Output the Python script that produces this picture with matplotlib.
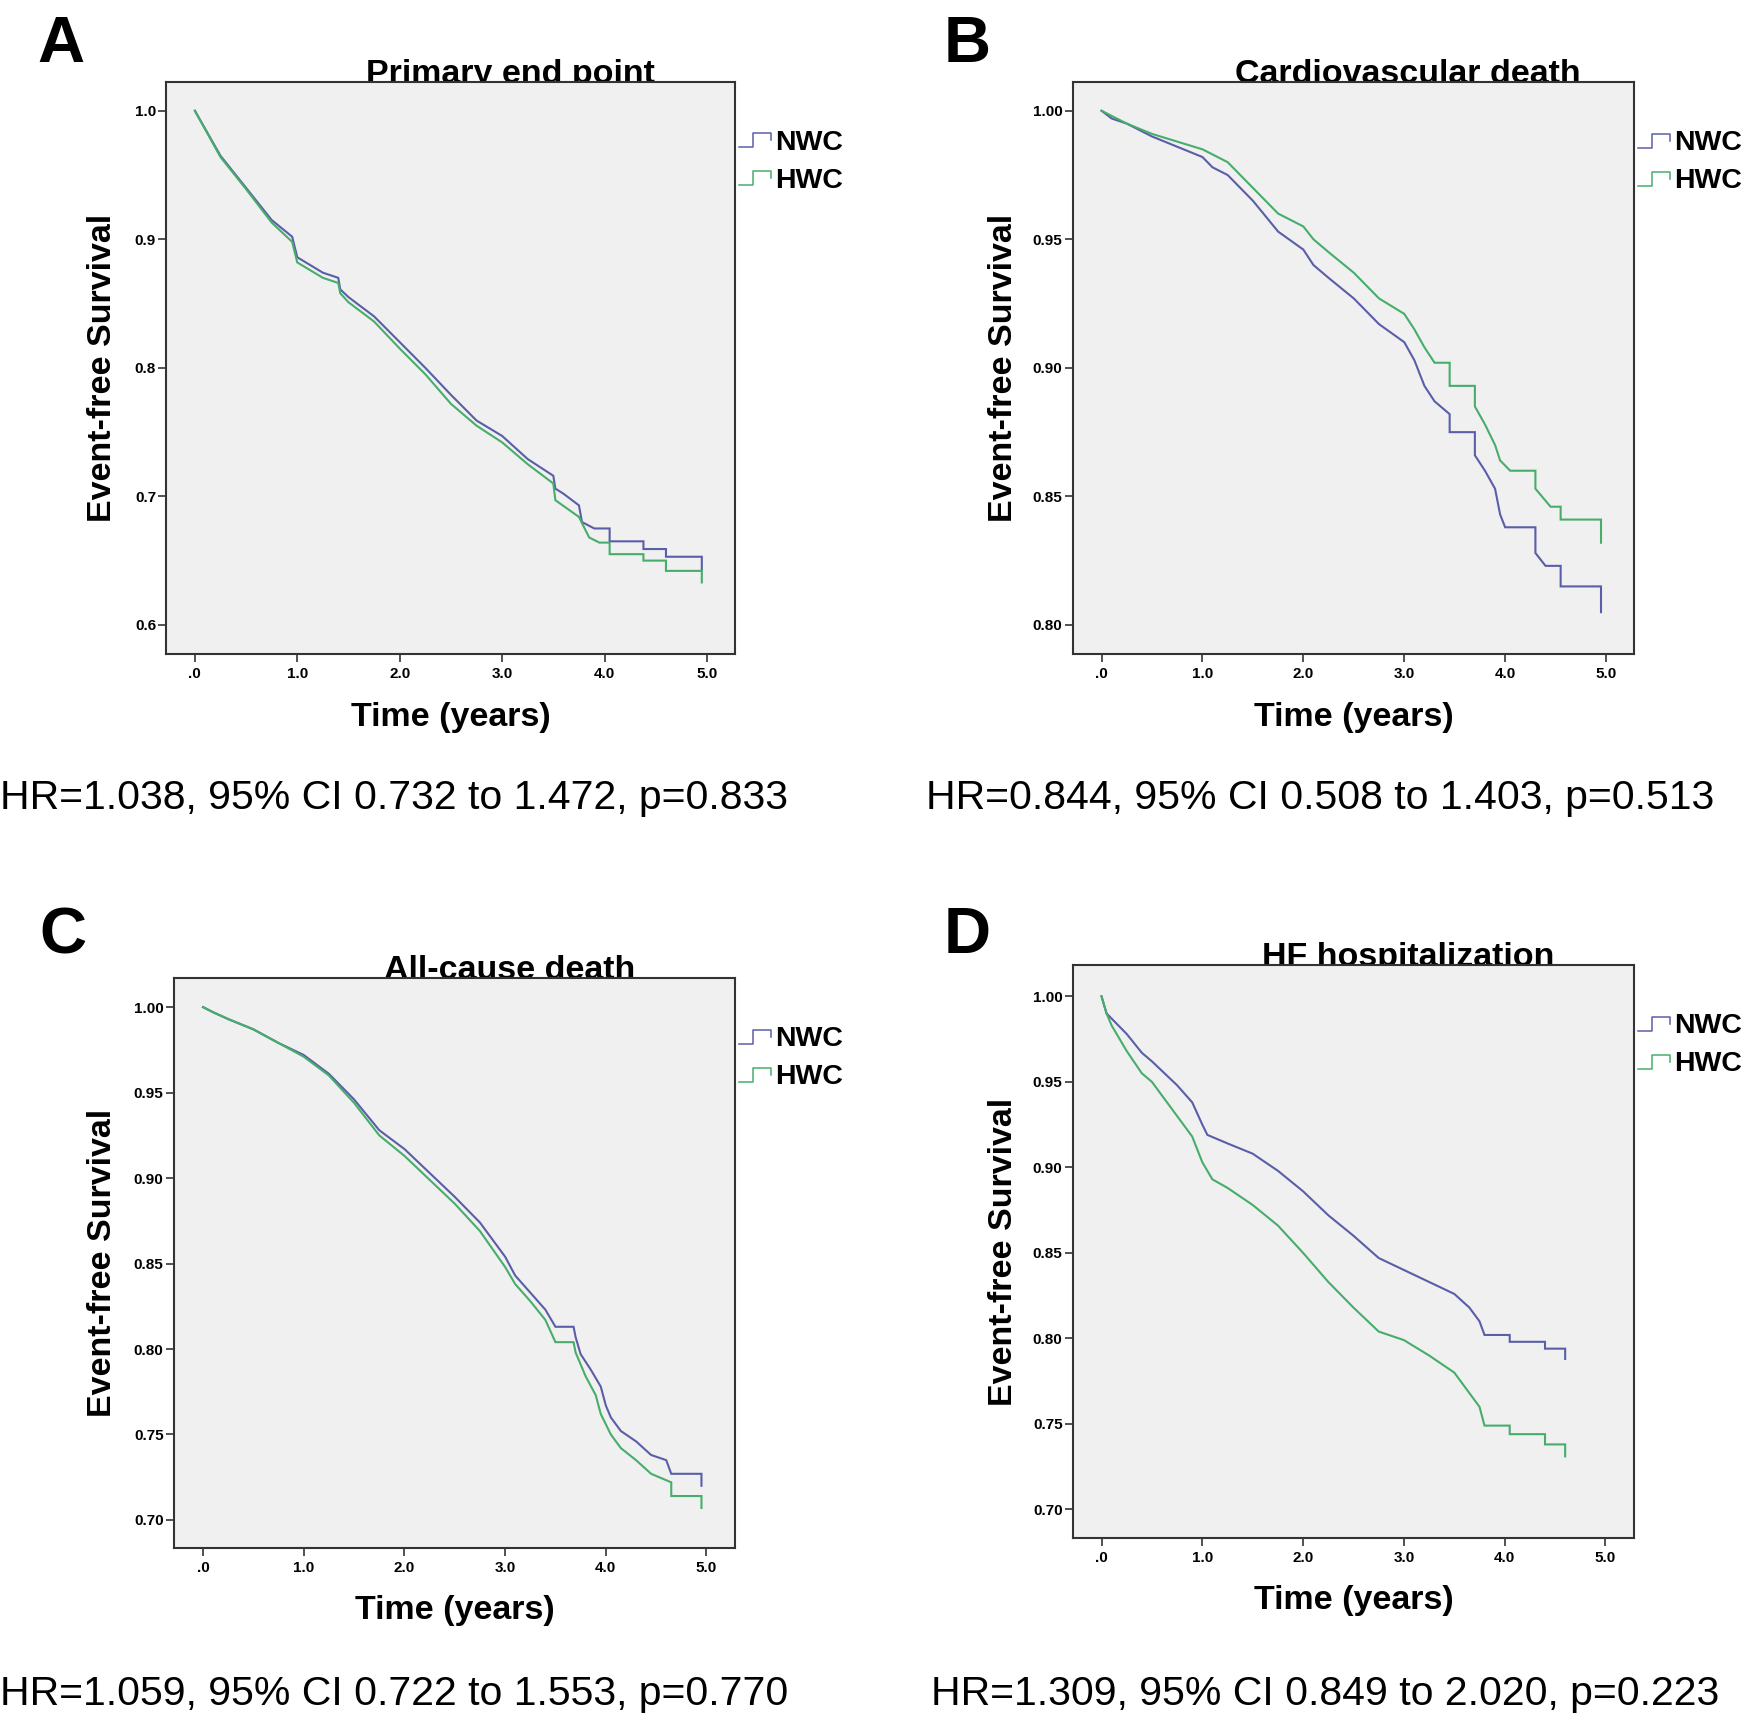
"""Four Kaplan-Meier panels (NWC vs HWC) with HR annotations."""

import matplotlib.pyplot as plt
from matplotlib.lines import Line2D

plt.rcParams["font.family"] = ["Liberation Sans", "DejaVu Sans"]

W, H = 1749, 1717  # output size in pixels (dpi 100)

COLORS = {"NWC": "#5a5ea8", "HWC": "#46ad6b"}
X_TICKS = [0, 1, 2, 3, 4, 5]
X_TICKLABELS = [".0", "1.0", "2.0", "3.0", "4.0", "5.0"]

# --- A: primary end point -----------------------------------------------------
A_NWC_T = [0, 0.25, 0.5, 0.75, 0.95, 1.0, 1.25, 1.4, 1.42, 1.5, 1.75, 2.0, 2.25, 2.5,
           2.75, 3.0, 3.25, 3.5, 3.52, 3.6, 3.75, 3.78, 3.9, 4.05, 4.05, 4.38, 4.38,
           4.6, 4.6, 4.95, 4.95]
A_NWC_S = [1.0, 0.965, 0.940, 0.915, 0.902, 0.886, 0.874, 0.870, 0.861, 0.855, 0.840,
           0.820, 0.800, 0.779, 0.759, 0.747, 0.729, 0.716, 0.706, 0.702, 0.693, 0.680,
           0.675, 0.675, 0.665, 0.665, 0.659, 0.659, 0.653, 0.653, 0.643]
A_HWC_T = [0, 0.25, 0.5, 0.75, 0.95, 1.0, 1.25, 1.4, 1.42, 1.5, 1.75, 2.0, 2.25, 2.5,
           2.75, 3.0, 3.25, 3.5, 3.52, 3.75, 3.85, 3.95, 4.05, 4.05, 4.38, 4.38, 4.6,
           4.6, 4.95, 4.95]
A_HWC_S = [1.0, 0.964, 0.939, 0.913, 0.898, 0.882, 0.870, 0.866, 0.858, 0.851, 0.836,
           0.815, 0.795, 0.772, 0.755, 0.742, 0.725, 0.710, 0.697, 0.684, 0.668, 0.664,
           0.664, 0.655, 0.655, 0.650, 0.650, 0.642, 0.642, 0.633]

# --- B: cardiovascular death ---------------------------------------------------
B_NWC_T = [0, 0.1, 0.25, 0.5, 0.75, 1.0, 1.1, 1.25, 1.5, 1.75, 2.0, 2.1, 2.25, 2.5,
           2.75, 3.0, 3.1, 3.2, 3.3, 3.45, 3.45, 3.7, 3.7, 3.8, 3.9, 3.95, 4.0, 4.3,
           4.3, 4.4, 4.55, 4.55, 4.95, 4.95]
B_NWC_S = [1.0, 0.997, 0.995, 0.990, 0.986, 0.982, 0.978, 0.975, 0.965, 0.953, 0.946,
           0.940, 0.935, 0.927, 0.917, 0.910, 0.903, 0.893, 0.887, 0.882, 0.875, 0.875,
           0.866, 0.860, 0.853, 0.843, 0.838, 0.838, 0.828, 0.823, 0.823, 0.815, 0.815,
           0.805]
B_HWC_T = [0, 0.25, 0.5, 0.75, 1.0, 1.25, 1.5, 1.75, 2.0, 2.1, 2.25, 2.5, 2.75, 3.0,
           3.1, 3.2, 3.3, 3.45, 3.45, 3.7, 3.7, 3.8, 3.9, 3.95, 4.05, 4.3, 4.3, 4.45,
           4.55, 4.55, 4.95, 4.95]
B_HWC_S = [1.0, 0.995, 0.991, 0.988, 0.985, 0.980, 0.970, 0.960, 0.955, 0.950, 0.945,
           0.937, 0.927, 0.921, 0.915, 0.908, 0.902, 0.902, 0.893, 0.893, 0.885, 0.878,
           0.870, 0.864, 0.860, 0.860, 0.853, 0.846, 0.846, 0.841, 0.841, 0.832]

# --- C: all-cause death --------------------------------------------------------
C_NWC_T = [0, 0.1, 0.25, 0.5, 0.75, 1.0, 1.25, 1.5, 1.75, 2.0, 2.25, 2.5, 2.75, 3.0,
           3.1, 3.25, 3.4, 3.5, 3.68, 3.7, 3.75, 3.85, 3.95, 4.0, 4.05, 4.15, 4.3,
           4.45, 4.6, 4.65, 4.95, 4.95]
C_NWC_S = [1.0, 0.997, 0.993, 0.987, 0.979, 0.972, 0.961, 0.946, 0.928, 0.917, 0.903,
           0.889, 0.874, 0.854, 0.843, 0.833, 0.823, 0.813, 0.813, 0.807, 0.797, 0.788,
           0.778, 0.767, 0.760, 0.752, 0.746, 0.738, 0.735, 0.727, 0.727, 0.720]
C_HWC_T = [0, 0.1, 0.25, 0.5, 0.75, 1.0, 1.25, 1.5, 1.75, 2.0, 2.25, 2.5, 2.75, 3.0,
           3.1, 3.25, 3.4, 3.5, 3.68, 3.7, 3.8, 3.9, 3.95, 4.05, 4.15, 4.3, 4.45, 4.65,
           4.65, 4.95, 4.95]
C_HWC_S = [1.0, 0.997, 0.993, 0.987, 0.979, 0.971, 0.960, 0.944, 0.925, 0.913, 0.899,
           0.885, 0.869, 0.848, 0.838, 0.828, 0.817, 0.804, 0.804, 0.798, 0.784, 0.773,
           0.762, 0.750, 0.742, 0.735, 0.727, 0.722, 0.714, 0.714, 0.707]

# --- D: HF hospitalization -----------------------------------------------------
D_NWC_T = [0, 0.05, 0.1, 0.25, 0.4, 0.5, 0.75, 0.9, 1.0, 1.05, 1.25, 1.5, 1.75, 2.0,
           2.25, 2.5, 2.75, 3.0, 3.25, 3.5, 3.65, 3.75, 3.8, 4.05, 4.05, 4.4, 4.4, 4.6,
           4.6]
D_NWC_S = [1.0, 0.990, 0.987, 0.978, 0.967, 0.962, 0.948, 0.938, 0.925, 0.919, 0.914,
           0.908, 0.898, 0.886, 0.872, 0.860, 0.847, 0.840, 0.833, 0.826, 0.818, 0.810,
           0.802, 0.802, 0.798, 0.798, 0.794, 0.794, 0.788]
D_HWC_T = [0, 0.05, 0.1, 0.25, 0.4, 0.5, 0.75, 0.9, 1.0, 1.1, 1.25, 1.5, 1.75, 2.0,
           2.25, 2.5, 2.75, 3.0, 3.25, 3.5, 3.65, 3.75, 3.8, 4.05, 4.05, 4.4, 4.4, 4.6,
           4.6]
D_HWC_S = [1.0, 0.990, 0.983, 0.968, 0.955, 0.950, 0.930, 0.918, 0.903, 0.893, 0.888,
           0.878, 0.866, 0.850, 0.833, 0.818, 0.804, 0.799, 0.790, 0.780, 0.768, 0.760,
           0.749, 0.749, 0.744, 0.744, 0.738, 0.738, 0.731]

TITLES = ["Primary end point", "Cardiovascular death", "All-cause death",
          "HF hospitalization"]
LETTERS = ["A", "B", "C", "D"]
HR_TEXT = ["HR=1.038, 95% CI 0.732 to 1.472, p=0.833",
           "HR=0.844, 95% CI 0.508 to 1.403, p=0.513",
           "HR=1.059, 95% CI 0.722 to 1.553, p=0.770",
           "HR=1.309, 95% CI 0.849 to 2.020, p=0.223"]
Y_TICKS = [[0.6, 0.7, 0.8, 0.9, 1.0],
           [0.80, 0.85, 0.90, 0.95, 1.00],
           [0.70, 0.75, 0.80, 0.85, 0.90, 0.95, 1.00],
           [0.70, 0.75, 0.80, 0.85, 0.90, 0.95, 1.00]]
Y_FMT = ["{:.1f}", "{:.2f}", "{:.2f}", "{:.2f}"]
CURVES = [
    {"NWC": (A_NWC_T, A_NWC_S), "HWC": (A_HWC_T, A_HWC_S)},
    {"NWC": (B_NWC_T, B_NWC_S), "HWC": (B_HWC_T, B_HWC_S)},
    {"NWC": (C_NWC_T, C_NWC_S), "HWC": (C_HWC_T, C_HWC_S)},
    {"NWC": (D_NWC_T, D_NWC_S), "HWC": (D_HWC_T, D_HWC_S)},
]

# layout, in pixels of the final image: box (left, top, right, bottom), axis limits
BOXES = [(166.5, 81.7, 735.3, 654.3), (1073, 81.7, 1634, 654.3),
         (174, 977.7, 735.3, 1548), (1073, 965.4, 1634, 1537.8)]
XLIMS = [(-0.277, 5.277), (-0.283, 5.277), (-0.288, 5.286), (-0.283, 5.283)]
YLIMS = [(0.5771, 1.0226), (0.7886, 1.0113), (0.6836, 1.0172), (0.6834, 1.0181)]
LETTER_XY = [(37, 62), (944, 62), (39, 953), (944, 953)]
TITLE_X = [510, 1408, 510, 1408]
YLABEL_X = [103, 1003, 103, 1003]
LEGEND_Y = [(142.5, 180.5), (143, 181.5), (1039, 1077), (1026, 1064)]
HR_XY = [(0, 809), (926, 809), (0, 1705), (931, 1705)]


def fx(px):
    return px / W


def fy(py):
    return 1 - py / H


fig = plt.figure(figsize=(W / 100, H / 100), dpi=100)

for i in range(4):
    left, top, right, bottom = BOXES[i]
    ax = fig.add_axes([fx(left), fy(bottom), (right - left) / W, (bottom - top) / H])
    ax.set_facecolor("#f0f0f0")
    for name in ["NWC", "HWC"]:
        t, s = CURVES[i][name]
        ax.plot(t, s, color=COLORS[name], lw=1.5, solid_joinstyle="miter")
    ax.set_xlim(*XLIMS[i])
    ax.set_ylim(*YLIMS[i])
    ax.set_xticks(X_TICKS)
    ax.set_xticklabels(X_TICKLABELS, fontweight="bold", fontsize=11)
    ax.set_yticks(Y_TICKS[i])
    ax.set_yticklabels([Y_FMT[i].format(v) for v in Y_TICKS[i]],
                       fontweight="bold", fontsize=11)
    ax.tick_params(axis="both", direction="out", length=5.5, width=1.2,
                   color="#333333")
    ax.tick_params(axis="x", pad=4)
    ax.tick_params(axis="y", pad=2)
    for sp in ax.spines.values():
        sp.set_color("#333333")
        sp.set_linewidth(1.5)

    ax.set_xlabel("Time (years)", fontsize=24.5, fontweight="bold")
    ax.xaxis.set_label_coords(0.5, -(63) / (bottom - top))
    ax.xaxis.label.set_va("center")
    ax.set_ylabel("Event-free Survival", fontsize=24.5, fontweight="bold")
    ax.yaxis.set_label_coords((YLABEL_X[i] - left) / (right - left), 0.5)
    ax.yaxis.label.set_va("center")

    # title sits behind the plot box, so its lower edge is hidden by the frame
    fig.text(fx(TITLE_X[i]), fy(top + 1), TITLES[i], ha="center", va="baseline",
             fontsize=24.5, fontweight="bold", zorder=-1)
    fig.text(fx(LETTER_XY[i][0]), fy(LETTER_XY[i][1]), LETTERS[i], ha="left",
             va="baseline", fontsize=47, fontweight="bold")

    # SPSS-style legend with little step icons
    x0 = right + 4
    for name, yc in zip(["NWC", "HWC"], LEGEND_Y[i]):
        xs = [x0, x0 + 14, x0 + 14, x0 + 32, x0 + 32]
        ys = [yc + 5, yc + 5, yc - 9, yc - 9, yc - 2]
        fig.add_artist(Line2D([fx(v) for v in xs], [fy(v) for v in ys],
                              color=COLORS[name], lw=1.1, transform=fig.transFigure))
        fig.text(fx(x0 + 36), fy(yc), name, ha="left", va="center",
                 fontsize=20.5, fontweight="bold")

    fig.text(fx(HR_XY[i][0]), fy(HR_XY[i][1]), HR_TEXT[i], ha="left",
             va="baseline", fontsize=29.5)

fig.savefig("out.png", dpi=100)
